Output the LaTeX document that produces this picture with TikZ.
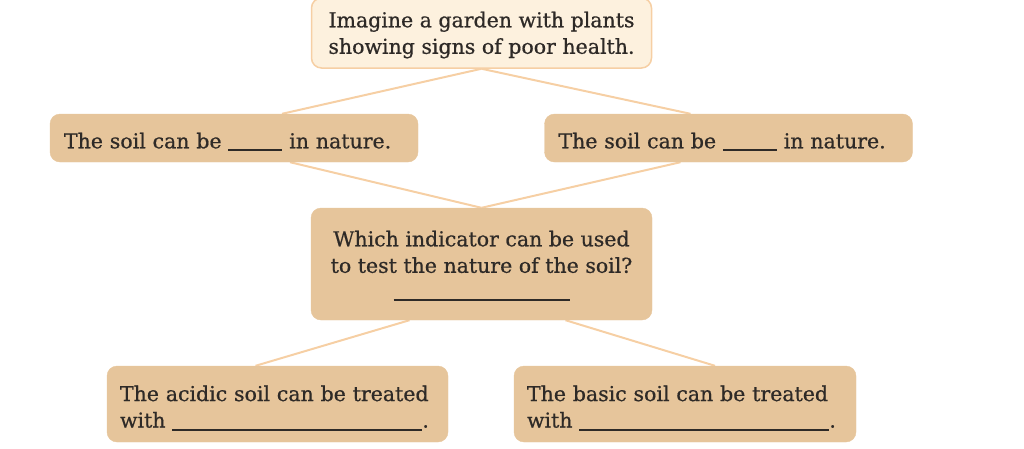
\documentclass[tikz,border=0pt]{standalone}
\usepackage{fontspec}
\setmainfont{DejaVu Serif}[BoldFont=DejaVu Serif, BoldFeatures={FakeBold=0.7}]
\usetikzlibrary{backgrounds}
\definecolor{boxtan}{HTML}{E6C59B}
\definecolor{boxcream}{HTML}{FDF1DE}
\definecolor{linkc}{HTML}{F6CFA4}
\definecolor{txt}{HTML}{2E2A27}
\tikzset{
  box/.style={rectangle, rounded corners=10pt, fill=boxtan, draw=boxtan, inner sep=0pt},
  topbox/.style={box, fill=boxcream, draw=linkc, line width=1.5pt},
  label/.style={inner sep=0pt, text=txt, font=\fontsize{20.5}{26.5}\selectfont\bfseries},
  link/.style={draw=linkc, line width=2pt}
}
\newcommand{\blank}[1]{\rule[-3pt]{#1}{1.8pt}}
\begin{document}
\begin{tikzpicture}[x=1pt,y=-1pt]
\useasboundingbox (0,0) rectangle (1024,448);
\node[topbox, minimum width=340pt, minimum height=70pt] (top) at (481.5,33) {};
\node[box, minimum width=368pt, minimum height=48pt] (lm) at (234,138) {};
\node[box, minimum width=368pt, minimum height=48pt] (rm) at (728.5,138) {};
\node[box, minimum width=341pt, minimum height=112pt] (mid) at (481.5,264) {};
\node[box, minimum width=341pt, minimum height=76pt] (bl) at (277.5,404) {};
\node[box, minimum width=342pt, minimum height=76pt] (br) at (685,404) {};
\node[label, align=center] (toptext) at ([yshift=-2pt]top.center)
  {Imagine a garden with plants\\showing signs of poor health.};
\node[label, text width=340pt, align=left] (lmtext) at ([yshift=-4pt]lm.center)
  {The soil can be \blank{54pt} in nature.};
\node[label, text width=340pt, align=left] (rmtext) at ([yshift=-4pt]rm.center)
  {The soil can be \blank{54pt} in nature.};
\node[label, align=center] (midtext) at ([yshift=-2pt]mid.center)
  {Which indicator can be used\\to test the nature of the soil?\\[-1pt]\blank{176pt}};
\node[label, text width=315pt, align=left] (bltext) at ([yshift=-4pt]bl.center)
  {The acidic soil can be treated\\with \blank{250pt}.};
\node[label, text width=316pt, align=left] (brtext) at ([yshift=-4pt]br.center)
  {The basic soil can be treated\\with \blank{250pt}.};
\begin{scope}[on background layer]
\draw[link] (top.south) -- ([xshift=48pt]lm.north);
\draw[link] (top.south) -- ([xshift=-38pt]rm.north);
\draw[link] ([xshift=56pt]lm.south) -- (mid.north);
\draw[link] ([xshift=-48pt]rm.south) -- (mid.north);
\draw[link] ([xshift=-72pt]mid.south) -- ([xshift=-22pt]bl.north);
\draw[link] ([xshift=84pt]mid.south) -- ([xshift=30pt]br.north);
\end{scope}
\end{tikzpicture}
\end{document}
